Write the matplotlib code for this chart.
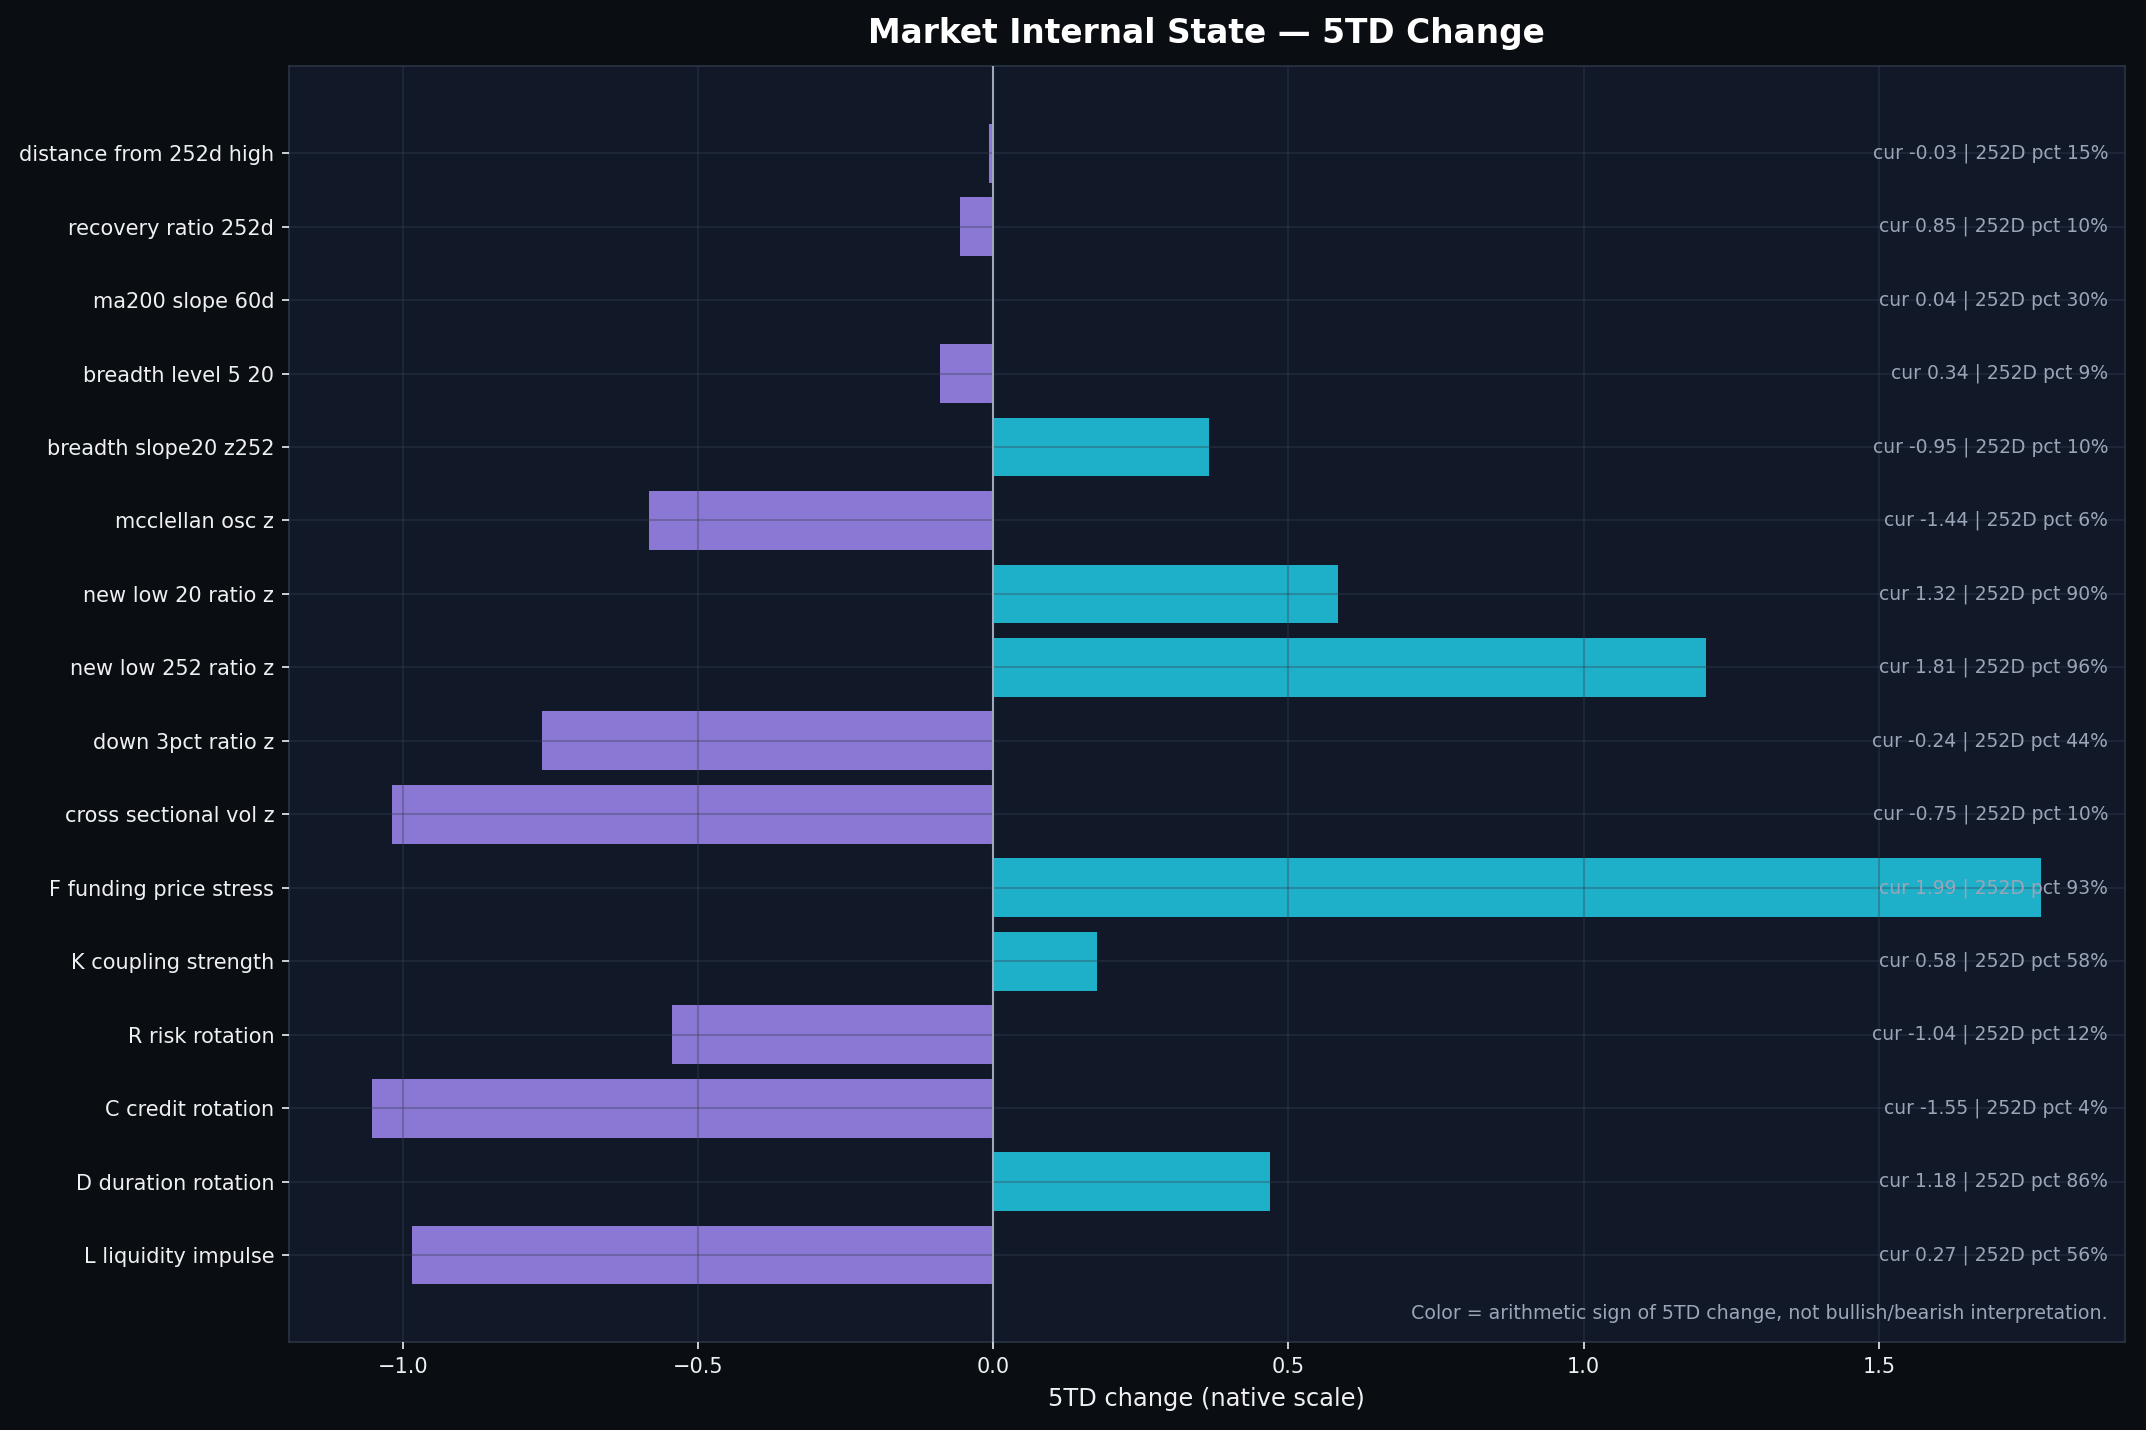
import matplotlib
matplotlib.use("Agg")
import matplotlib.pyplot as plt
import matplotlib.transforms as mtransforms

# Data (bottom to top as drawn)
labels = [
    "L liquidity impulse",
    "D duration rotation",
    "C credit rotation",
    "R risk rotation",
    "K coupling strength",
    "F funding price stress",
    "cross sectional vol z",
    "down 3pct ratio z",
    "new low 252 ratio z",
    "new low 20 ratio z",
    "mcclellan osc z",
    "breadth slope20 z252",
    "breadth level 5 20",
    "ma200 slope 60d",
    "recovery ratio 252d",
    "distance from 252d high",
]
change_5td = [-0.985, 0.469, -1.052, -0.545, 0.176, 1.775, -1.018, -0.765,
              1.207, 0.584, -0.584, 0.366, -0.091, 0.0, -0.057, -0.008]
current = ["0.27", "1.18", "-1.55", "-1.04", "0.58", "1.99", "-0.75", "-0.24",
           "1.81", "1.32", "-1.44", "-0.95", "0.34", "0.04", "0.85", "-0.03"]
pct_252d = [56, 86, 4, 12, 58, 93, 10, 44, 96, 90, 6, 10, 9, 30, 10, 15]

FIG_BG = "#0a0d11"
AX_BG = "#111827"
GRID = "#334155"
SPINE = "#2a3445"
TEXT = "#eef0f3"
MUTED = "#9aa5b8"
POS = "#1fb0c9"
NEG = "#8b78d4"


def main():
    fig = plt.figure(figsize=(2146 / 150, 1430 / 150), dpi=150, facecolor=FIG_BG)
    ax = fig.add_axes([0.1346, 0.0612, 0.8554, 0.8928])
    ax.set_facecolor(AX_BG)

    ys = list(range(len(labels)))
    colors = [POS if v > 0 else NEG for v in change_5td]
    ax.barh(ys, change_5td, height=0.8, color=colors, zorder=1)

    ax.axvline(0, color="#9ca9bc", lw=1.0, zorder=3)

    # grid drawn over bars
    ax.set_axisbelow(False)
    ax.grid(True, color=GRID, lw=1.0, alpha=0.35)

    ax.set_yticks(ys)
    ax.set_yticklabels(labels)
    ax.tick_params(colors=TEXT, labelsize=10)
    for sp in ax.spines.values():
        sp.set_color(SPINE)

    trans = mtransforms.blended_transform_factory(ax.transAxes, ax.transData)
    for y, c, p in zip(ys, current, pct_252d):
        ax.text(0.991, y, f"cur {c} | 252D pct {p}%", transform=trans,
                ha="right", va="center", fontsize=9, color=MUTED, zorder=4)

    ax.text(0.991, 0.015,
            "Color = arithmetic sign of 5TD change, not bullish/bearish interpretation.",
            transform=ax.transAxes, ha="right", va="bottom", fontsize=9.1, color=MUTED)

    ax.set_xlabel("5TD change (native scale)", color=TEXT, fontsize=11.6, labelpad=5)
    ax.set_title("Market Internal State \u2014 5TD Change", color="white",
                 fontsize=15.8, fontweight="bold", pad=11)

    fig.savefig("out.png", dpi=150, facecolor=FIG_BG)


if __name__ == "__main__":
    main()
